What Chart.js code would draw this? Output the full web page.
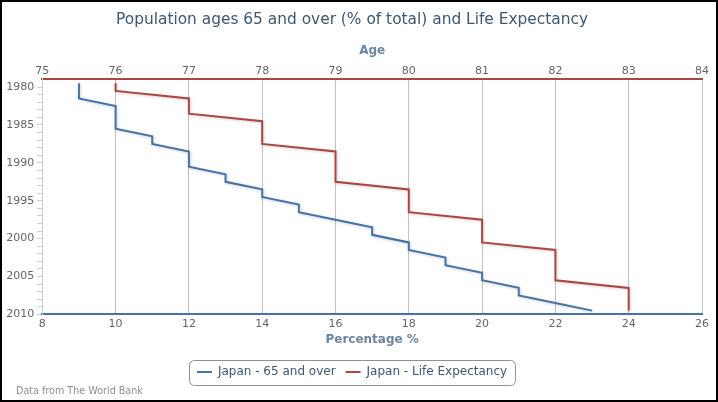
<!DOCTYPE html>
<html>
<head>
<meta charset="utf-8">
<title>Population ages 65 and over and Life Expectancy</title>
<script src="https://cdn.jsdelivr.net/npm/chart.js@4.4.1/dist/chart.umd.min.js"></script>
<style>
  html, body { margin: 0; padding: 0; background: #fff; }
  #wrap { width: 718px; height: 402px; box-sizing: border-box; border: 2px solid #000; position: relative; }
  #chart { display: block; }
</style>
</head>
<body>
<div id="wrap"><canvas id="chart"></canvas></div>
<script>
// years on the vertical axis, one value per year
const years = [1980, 1981, 1982, 1983, 1984, 1985, 1986, 1987, 1988, 1989,
               1990, 1991, 1992, 1993, 1994, 1995, 1996, 1997, 1998, 1999,
               2000, 2001, 2002, 2003, 2004, 2005, 2006, 2007, 2008, 2009, 2010];
const yearLabels = [1980, 1985, 1990, 1995, 2000, 2005, 2010];

// Japan - population ages 65 and over (% of total), bottom axis
const over65 = [9, 9, 9, 10, 10, 10, 10, 11, 11, 12,
                12, 12, 13, 13, 14, 14, 15, 15, 16, 17,
                17, 18, 18, 19, 19, 20, 20, 21, 21, 22, 23];

// Japan - life expectancy at birth (years), top axis
const lifeExpectancy = [76, 76, 77, 77, 77, 78, 78, 78, 78, 79,
                        79, 79, 79, 79, 80, 80, 80, 80, 81, 81,
                        81, 81, 82, 82, 82, 82, 82, 83, 83, 83, 83];

const FONT = "'DejaVu Sans', Verdana, sans-serif";
const BLUE = "#4572A7";
const RED = "#AA4643";

// the original plots each yearly value half a year above its tick
const toPoints = vals => vals.map((v, i) => ({ x: v, y: years[i] - 0.5 }));

// soft shadow under the series lines
const lineShadow = {
    id: "lineShadow",
    beforeDatasetDraw(chart) {
        const ctx = chart.ctx;
        ctx.save();
        ctx.shadowColor = "rgba(0,0,0,0.2)";
        ctx.shadowBlur = 3;
        ctx.shadowOffsetX = 1;
        ctx.shadowOffsetY = 1;
    },
    afterDatasetDraw(chart) {
        chart.ctx.restore();
    }
};

// rounded frame round the legend + credits line
const legendFrame = {
    id: "legendFrame",
    afterDraw(chart) {
        const ctx = chart.ctx;
        const boxes = chart.legend.legendHitBoxes;
        if (boxes && boxes.length) {
            const first = boxes[0];
            const last = boxes[boxes.length - 1];
            const x = first.left - 8;
            const w = last.left + last.width + 8 - x;
            const y = first.top - 6.5;
            const h = first.height + 13;
            ctx.save();
            ctx.strokeStyle = "#909090";
            ctx.lineWidth = 1;
            ctx.beginPath();
            ctx.roundRect(Math.round(x) + 0.5, Math.round(y) + 0.5, Math.round(w), Math.round(h), 5);
            ctx.stroke();
            ctx.restore();
        }
        ctx.save();
        ctx.font = "9.6px " + FONT;
        ctx.fillStyle = "#909090";
        ctx.textAlign = "left";
        ctx.textBaseline = "middle";
        ctx.fillText("Data from The World Bank", 14, 389);
        ctx.restore();
    }
};

const canvas = document.getElementById("chart");
canvas.width = 714;
canvas.height = 398;

new Chart(canvas.getContext("2d"), {
    type: "line",
    data: {
        datasets: [
            {
                label: "Japan - 65 and over",
                data: toPoints(over65),
                borderColor: BLUE,
                backgroundColor: BLUE,
                borderWidth: 2,
                pointRadius: 0,
                tension: 0,
                xAxisID: "x",
                yAxisID: "y"
            },
            {
                label: "Japan - Life Expectancy",
                data: toPoints(lifeExpectancy),
                borderColor: RED,
                backgroundColor: RED,
                borderWidth: 2,
                pointRadius: 0,
                tension: 0,
                xAxisID: "x2",
                yAxisID: "y"
            }
        ]
    },
    options: {
        responsive: false,
        animation: false,
        indexAxis: "y",
        layout: { padding: { left: 0, right: 14, top: 0, bottom: 12 } },
        plugins: {
            title: {
                display: true,
                text: "Population ages 65 and over (% of total) and Life Expectancy",
                color: "#3E576F",
                font: { family: FONT, size: 15.4, weight: "normal" },
                padding: { top: 8.8, bottom: 0 }
            },
            legend: {
                position: "bottom",
                labels: {
                    usePointStyle: true,
                    pointStyle: "line",
                    pointStyleWidth: 15,
                    padding: 10,
                    color: "#3E576F",
                    font: { family: FONT, size: 12 }
                }
            },
            tooltip: { enabled: false }
        },
        scales: {
            x: {
                type: "linear",
                position: "bottom",
                min: 8,
                max: 26,
                ticks: { stepSize: 2, padding: 3, color: "#666", font: { family: FONT, size: 11 } },
                grid: { color: "#C0C0C0", drawTicks: false },
                border: { color: BLUE, width: 2 },
                title: {
                    display: true,
                    text: "Percentage %",
                    color: "#6D869F",
                    font: { family: FONT, size: 12, weight: "bold" },
                    padding: { top: 0, bottom: 8.8 }
                },
                afterFit(scale) { scale.height = 41.6; }
            },
            x2: {
                type: "linear",
                position: "top",
                min: 75,
                max: 84,
                ticks: { stepSize: 1, padding: 1.5, color: "#666", font: { family: FONT, size: 11 } },
                grid: { display: false, drawTicks: false },
                border: { color: RED, width: 2 },
                title: {
                    display: true,
                    text: "Age",
                    color: "#6D869F",
                    font: { family: FONT, size: 12, weight: "bold" },
                    padding: { top: 13.9, bottom: 0 }
                },
                afterFit(scale) { scale.height = 49.5; }
            },
            y: {
                type: "linear",
                reverse: true,
                min: 1978.9,
                max: 2010,
                afterBuildTicks(scale) {
                    scale.ticks = years.map(v => ({ value: v }));
                },
                ticks: {
                    autoSkip: false,
                    padding: 3,
                    color: "#666",
                    font: { family: FONT, size: 11 },
                    callback: v => yearLabels.includes(v) ? String(v) : ""
                },
                grid: { drawOnChartArea: false, drawTicks: true, tickLength: 5, color: "#C0D0E0" },
                border: { color: "#C0D0E0", width: 1 },
                afterFit(scale) { scale.width = 40.3; }
            }
        }
    },
    plugins: [lineShadow, legendFrame]
});
</script>
</body>
</html>
